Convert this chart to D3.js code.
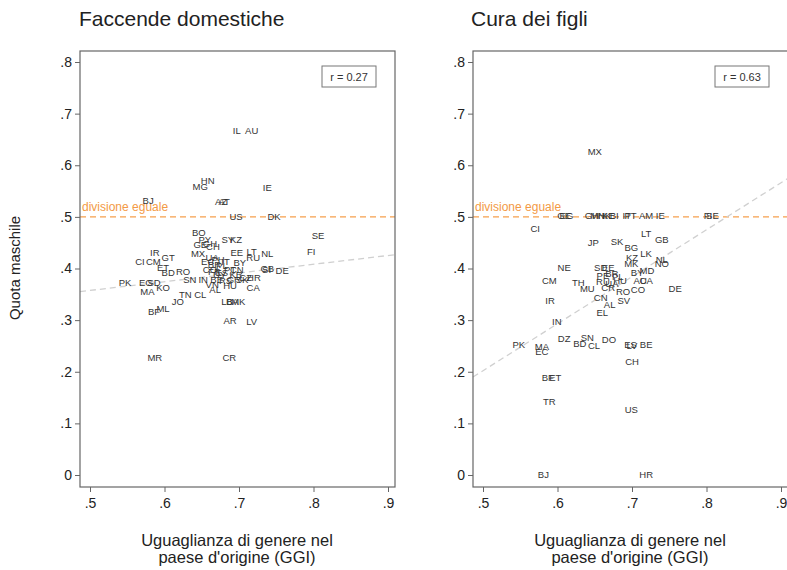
<!DOCTYPE html>
<html>
<head>
<meta charset="utf-8">
<script src="https://cdn.jsdelivr.net/npm/d3@7"></script>
<style>
  body { margin: 0; background: #fff; }
  svg { display: block; font-family: 'Liberation Sans', Arial, sans-serif; }
</style>
</head>
<body>
<div id="chart"></div>
<script>
// Faccende domestiche
const domesticCountries = ['IL','AU','HN','MG','IE','BJ','AZ','AT','US','DK','SE','FI','BO','SY','KZ','PY','GH','CH','GE','MX','IR','CI','CM','GT','ET','BD','RO','SN','PK','EG','SD','KO','MA','TN','CL','JO','ML','BF','LB','BA','MK','AR','LV','MR','CR','EE','LT','NL','BY','RU','GB','SI','DE','CN','HR','CA','AL','UA','PH','BR','PL','IT','FR','ES','PT','BE','RS','GR','SK','CZ','HU','VN','UY','EC','CO','KR','IN']
const domesticGGI = [0.697,0.717,0.658,0.648,0.738,0.578,0.676,0.680,0.696,0.747,0.806,0.797,0.646,0.685,0.696,0.654,0.661,0.665,0.648,0.645,0.587,0.567,0.585,0.605,0.598,0.605,0.625,0.634,0.547,0.575,0.586,0.598,0.577,0.628,0.648,0.618,0.598,0.586,0.684,0.691,0.699,0.688,0.717,0.587,0.687,0.697,0.717,0.738,0.701,0.719,0.738,0.737,0.758,0.697,0.720,0.719,0.668,0.664,0.672,0.667,0.677,0.682,0.667,0.677,0.688,0.670,0.682,0.693,0.704,0.709,0.688,0.664,0.674,0.658,0.661,0.696,0.652]
const domesticShare = [0.667,0.667,0.570,0.558,0.556,0.531,0.529,0.529,0.500,0.500,0.463,0.432,0.469,0.455,0.455,0.455,0.449,0.442,0.446,0.428,0.430,0.413,0.413,0.421,0.401,0.391,0.393,0.378,0.372,0.372,0.372,0.362,0.355,0.349,0.349,0.335,0.322,0.316,0.335,0.335,0.335,0.298,0.297,0.227,0.227,0.430,0.432,0.428,0.411,0.421,0.399,0.397,0.395,0.397,0.382,0.362,0.359,0.421,0.417,0.407,0.405,0.413,0.393,0.391,0.397,0.378,0.376,0.378,0.378,0.382,0.366,0.368,0.388,0.413,0.397,0.388,0.378]

// Cura dei figli
const childCountries = ['MX','CI','GE','EG','GH','MN','HK','KE','BI','IT','PT','AM','IE','FI','SE','JP','SK','LT','GB','BG','LK','KZ','MK','NL','NO','MD','BY','AU','CA','CO','DE','NE','CM','TH','MU','SD','EE','PE','BR','PL','RU','UA','HU','CR','RO','CN','AL','SV','EL','IR','IN','PK','MA','EC','DZ','BD','SN','CL','DO','ES','LV','BE','CH','BF','ET','TR','US','BJ','HR']
const childGGI = [0.650,0.570,0.609,0.612,0.646,0.654,0.663,0.668,0.676,0.693,0.698,0.719,0.738,0.802,0.808,0.648,0.680,0.719,0.740,0.699,0.719,0.700,0.699,0.740,0.740,0.720,0.707,0.711,0.719,0.708,0.758,0.609,0.589,0.628,0.640,0.658,0.668,0.661,0.673,0.681,0.661,0.673,0.684,0.668,0.688,0.658,0.670,0.689,0.660,0.590,0.599,0.548,0.579,0.579,0.609,0.630,0.640,0.649,0.669,0.698,0.700,0.719,0.700,0.587,0.597,0.589,0.699,0.581,0.719]
const childShare = [0.626,0.477,0.502,0.502,0.502,0.502,0.502,0.502,0.502,0.502,0.502,0.502,0.502,0.502,0.502,0.450,0.452,0.467,0.455,0.440,0.428,0.421,0.409,0.417,0.409,0.395,0.391,0.376,0.376,0.359,0.360,0.401,0.376,0.372,0.360,0.401,0.401,0.386,0.390,0.384,0.374,0.370,0.376,0.362,0.355,0.343,0.329,0.337,0.314,0.337,0.297,0.252,0.248,0.238,0.264,0.254,0.266,0.250,0.262,0.252,0.250,0.252,0.219,0.188,0.188,0.143,0.126,0,0]

const panelTitles = ['Faccende domestiche', 'Cura dei figli']
const correlations = ['r = 0.27', 'r = 0.63']
// linear fit: share = intercept + slope * GGI
const fitIntercepts = [0.273, -0.253]
const fitSlopes = [0.169, 0.91]
const equalShare = 0.5

const xTicks = [0.5, 0.6, 0.7, 0.8, 0.9]
const yTicks = [0, 0.1, 0.2, 0.3, 0.4, 0.5, 0.6, 0.7, 0.8]

const width = 787
const height = 570
const panelOffset = 393

const svg = d3.select('#chart')
  .append('svg')
  .attr('width', width)
  .attr('height', height)

const fmt = (v) => v === 0 ? '0' : d3.format('.1f')(v).replace(/^0/, '')

const panels = [
  { countries: domesticCountries, ggi: domesticGGI, share: domesticShare },
  { countries: childCountries, ggi: childGGI, share: childShare },
]

const y = d3.scaleLinear().domain([0, 0.8]).range([475, 62])
const frameTop = 51
const frameBottom = 487

panels.forEach((panel, i) => {
  const off = i * panelOffset
  const x = d3.scaleLinear().domain([0.5, 0.9]).range([90 + off, 388 + off])
  const frameLeft = 80 + off
  const frameRight = 395 + off

  const g = svg.append('g')

  // title
  g.append('text')
    .attr('x', 79 + off - (i ? 1 : 0))
    .attr('y', 26)
    .style('font-size', '21px')
    .style('fill', '#222')
    .text(panelTitles[i])

  // equal-share reference line
  g.append('line')
    .attr('x1', frameLeft)
    .attr('x2', frameRight)
    .attr('y1', y(equalShare))
    .attr('y2', y(equalShare))
    .style('stroke', '#f6a04d')
    .style('stroke-width', 1.3)
    .style('stroke-dasharray', '6,4')

  g.append('text')
    .attr('x', frameLeft + 2)
    .attr('y', y(equalShare) - 6)
    .style('font-size', '12px')
    .style('fill', '#f39a45')
    .text('divisione eguale')

  // fit line
  const gx0 = x.invert(frameLeft)
  const gx1 = x.invert(frameRight)
  g.append('line')
    .attr('x1', frameLeft)
    .attr('x2', frameRight)
    .attr('y1', y(fitIntercepts[i] + fitSlopes[i] * gx0))
    .attr('y2', y(fitIntercepts[i] + fitSlopes[i] * gx1))
    .style('stroke', '#d0d0d0')
    .style('stroke-width', 1.3)
    .style('stroke-dasharray', '6,4')

  // country labels
  g.selectAll('.country')
    .data(panel.countries.map((c, k) => ({ c, gx: panel.ggi[k], gy: panel.share[k] })))
    .enter()
    .append('text')
    .attr('class', 'country')
    .attr('x', (d) => x(d.gx))
    .attr('y', (d) => y(d.gy))
    .attr('text-anchor', 'middle')
    .attr('dy', '0.35em')
    .style('font-size', '9.5px')
    .style('fill', '#333')
    .text((d) => d.c)

  // frame
  g.append('rect')
    .attr('x', frameLeft)
    .attr('y', frameTop)
    .attr('width', frameRight - frameLeft)
    .attr('height', frameBottom - frameTop)
    .style('fill', 'none')
    .style('stroke', '#666')
    .style('stroke-width', 1.2)

  // y axis
  const yAxis = g.append('g')
    .attr('transform', `translate(${frameLeft},0)`)
    .call(d3.axisLeft(y).tickValues(yTicks).tickFormat(fmt).tickSize(5).tickPadding(3))
  yAxis.select('.domain').remove()

  // x axis
  const xAxis = g.append('g')
    .attr('transform', `translate(0,${frameBottom})`)
    .call(d3.axisBottom(x).tickValues(xTicks).tickFormat(fmt).tickSize(5).tickPadding(6))
  xAxis.select('.domain').remove()

  ;[yAxis, xAxis].forEach((ax) => {
    ax.selectAll('line').style('stroke', '#666')
    ax.selectAll('text')
      .style('font-size', '14px')
      .style('fill', '#222')
      .style('font-family', "'Liberation Sans', Arial, sans-serif")
  })

  // r box
  const rb = g.append('g').attr('transform', `translate(${322 + off},66)`)
  rb.append('rect')
    .attr('width', 54)
    .attr('height', 21)
    .style('fill', '#fff')
    .style('stroke', '#777')
  rb.append('text')
    .attr('x', 27)
    .attr('y', 14.5)
    .attr('text-anchor', 'middle')
    .style('font-size', '11px')
    .style('fill', '#333')
    .text(correlations[i])

  // x title
  const xt = g.append('text')
    .attr('text-anchor', 'middle')
    .style('font-size', '16.5px')
    .style('fill', '#222')
  xt.append('tspan').attr('x', 237 + off).attr('y', 546).text('Uguaglianza di genere nel')
  xt.append('tspan').attr('x', 237 + off).attr('y', 563).text("paese d'origine (GGI)")
})

svg.append('text')
  .attr('transform', 'translate(20,268) rotate(-90)')
  .attr('text-anchor', 'middle')
  .style('font-size', '15px')
  .style('fill', '#222')
  .text('Quota maschile')
</script>
</body>
</html>
